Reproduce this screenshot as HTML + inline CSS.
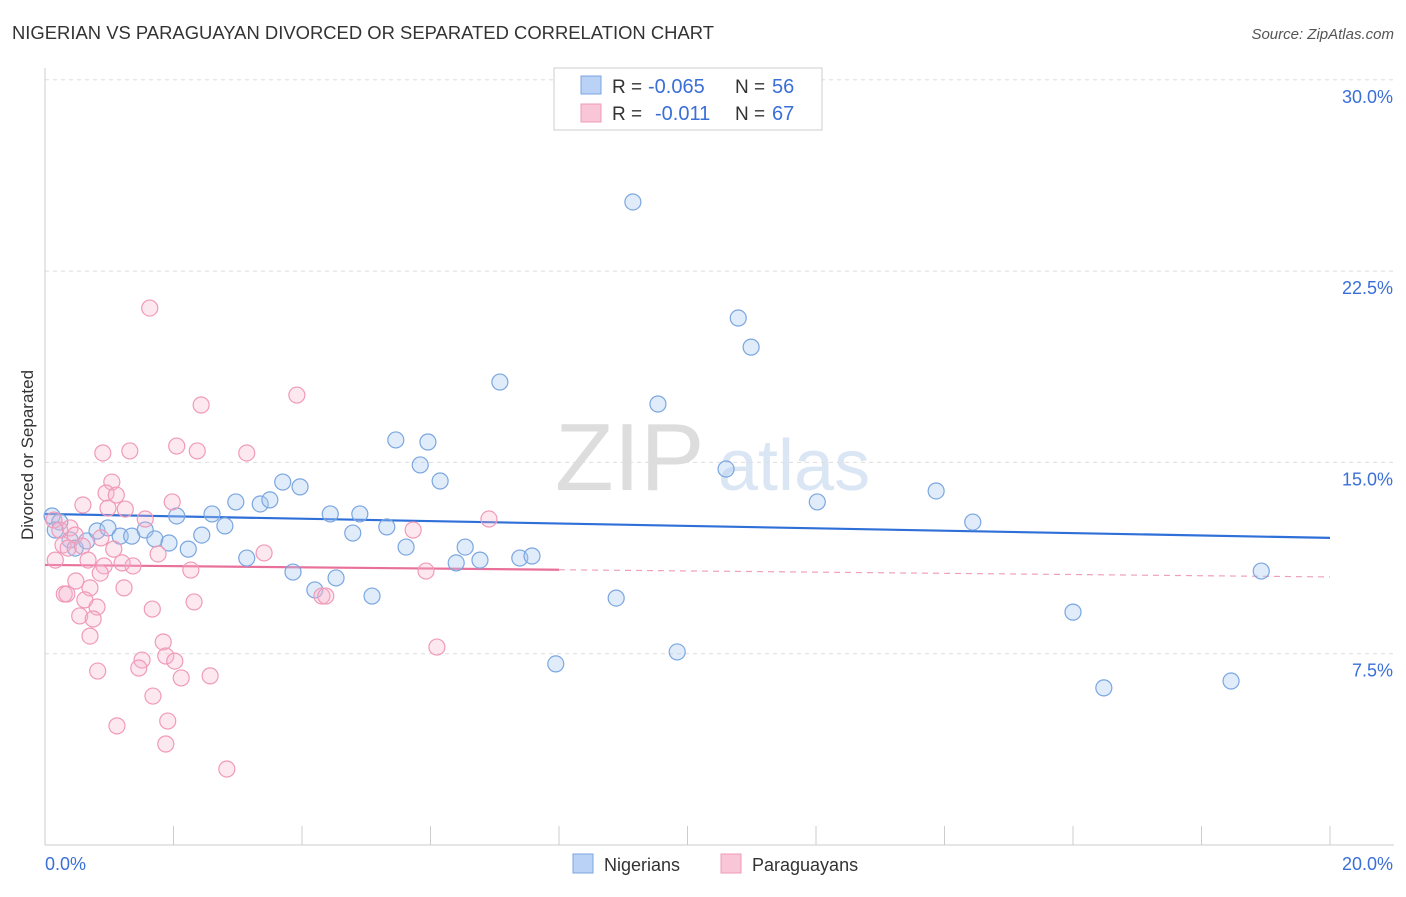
<!DOCTYPE html>
<html><head><meta charset="utf-8"><style>
body{margin:0;background:#fff;font-family:"Liberation Sans",sans-serif}
svg text{font-family:"Liberation Sans",sans-serif}
</style></head><body>
<svg id="chart" width="1406" height="892" xmlns="http://www.w3.org/2000/svg">
<text x="12" y="39" font-size="18" fill="#333" textLength="702" lengthAdjust="spacingAndGlyphs">NIGERIAN VS PARAGUAYAN DIVORCED OR SEPARATED CORRELATION CHART</text>
<text x="1394" y="39" font-size="15" fill="#555" text-anchor="end" font-style="italic">Source: ZipAtlas.com</text>
<text x="555" y="490" font-size="96" fill="#ddd" font-family="Liberation Serif">ZIP</text>
<text x="718" y="490" font-size="72" fill="#dbe6f5">atlas</text>
<text transform="translate(33,455) rotate(-90)" font-size="17" fill="#333" text-anchor="middle">Divorced or Separated</text>
<g id="grid"></g><g id="axes"></g><g id="trends"></g><g id="pts"></g>
<g>
<rect x="554" y="68" width="268" height="62" fill="#fff" stroke="#ccc"/>
<rect x="581" y="76" width="20" height="18" fill="#b9d2f5" stroke="#7aa6e0"/>
<rect x="581" y="104" width="20" height="18" fill="#f9c6d8" stroke="#f09ab8"/>
<text x="612" y="93" font-size="19" fill="#333">R =</text>
<text x="648" y="93" font-size="20" fill="#3a6fd8">-0.065</text>
<text x="735" y="93" font-size="19" fill="#333">N =</text>
<text x="772" y="93" font-size="20" fill="#3a6fd8">56</text>
<text x="612" y="120" font-size="19" fill="#333">R =</text>
<text x="655" y="120" font-size="20" fill="#3a6fd8">-0.011</text>
<text x="735" y="120" font-size="19" fill="#333">N =</text>
<text x="772" y="120" font-size="20" fill="#3a6fd8">67</text>
</g>
<g>
<rect x="573" y="854" width="20" height="19" fill="#b9d2f5" stroke="#7aa6e0"/>
<text x="604" y="871" font-size="18" fill="#333">Nigerians</text>
<rect x="721" y="854" width="20" height="19" fill="#f9c6d8" stroke="#f09ab8"/>
<text x="752" y="871" font-size="18" fill="#333">Paraguayans</text>
</g>
</svg>
<script>
const yTicks=[7.5,15,22.5,30];
const yTickLabels=["7.5%","15.0%","22.5%","30.0%"];
const xTicks=[0,2,4,6,8,10,12,14,16,18,20];
const blueX=[9.15,10.79,10.99,7.08,9.54,5.46,5.96,5.84,6.15,10.60,3.70,3.97,2.97,3.35,3.50,12.02,13.87,14.44,2.05,2.60,2.80,4.44,4.90,5.32,4.79,5.62,6.54,7.39,7.58,6.40,6.77,3.14,3.86,4.53,4.20,5.09,8.89,16.00,7.95,9.84,16.48,18.46,18.93,0.11,0.23,0.16,0.39,0.47,0.65,0.81,0.98,1.17,1.35,1.56,1.71,1.93,2.23,2.44];
const blueY=[25.21,20.66,19.52,18.15,17.29,15.88,15.80,14.90,14.27,14.74,14.23,14.04,13.45,13.37,13.53,13.45,13.88,12.66,12.90,12.98,12.51,12.98,12.98,12.47,12.23,11.68,11.68,11.25,11.33,11.06,11.17,11.25,10.70,10.47,10.00,9.76,9.68,9.13,7.10,7.57,6.16,6.43,10.74,12.90,12.66,12.35,11.96,11.64,11.92,12.31,12.43,12.11,12.11,12.35,12.00,11.84,11.60,12.15];
const pinkX=[1.63,3.92,2.43,2.05,2.37,0.90,1.32,3.14,1.04,0.95,1.11,0.59,0.98,1.25,1.98,1.56,6.91,5.73,0.14,0.23,0.39,0.47,0.28,0.36,0.16,0.58,1.07,1.76,3.41,0.67,0.92,1.37,2.27,5.93,0.86,0.48,0.70,1.23,0.30,0.34,0.62,2.32,1.67,0.81,0.54,0.75,0.70,1.84,1.88,1.51,2.02,1.46,0.82,2.12,2.57,6.10,1.68,4.31,4.37,1.91,1.12,1.88,2.83,1.20,0.87];
const pinkY=[21.05,17.64,17.25,15.64,15.45,15.37,15.45,15.37,14.23,13.80,13.72,13.33,13.21,13.17,13.45,12.78,12.78,12.35,12.74,12.35,12.43,12.15,11.76,11.64,11.17,11.72,11.60,11.41,11.45,11.17,10.94,10.94,10.78,10.74,10.66,10.35,10.08,10.08,9.84,9.84,9.61,9.53,9.25,9.33,8.98,8.86,8.19,7.96,7.41,7.25,7.21,6.94,6.82,6.55,6.63,7.76,5.84,9.76,9.76,4.86,4.67,3.96,2.98,11.06,12.04];
const blueTrend=[12.98,12.04];
const pinkTrend=[10.98,10.51];
const pinkSolidEnd=8.0;
const NS="http://www.w3.org/2000/svg";
const X=v=>45+v/20*1285, Y=v=>845-v/7.5*191.3;
function mk(p,t,a){const e=document.createElementNS(NS,t);for(const k in a)e.setAttribute(k,a[k]);document.getElementById(p).appendChild(e);return e;}
yTicks.forEach((t,i)=>{
 const l=mk('grid','line',{x1:45,x2:1394,y1:Y(t),y2:Y(t),stroke:'#ddd','stroke-dasharray':'4,4'});
 
 
 const tx=mk('grid','text',{x:1393,y:Y(t)+23,'font-size':18,fill:'#3a6fd8','text-anchor':'end'});
 tx.textContent=yTickLabels[i];
 
 
});
const ax=mk('axes','line',{x1:45,x2:1394,y1:845,y2:845,stroke:'#ccc'});


const ay=mk('axes','line',{x1:45,x2:45,y1:68,y2:845,stroke:'#ccc'});


xTicks.forEach(t=>{const l=mk('axes','line',{x1:X(t),x2:X(t),y1:826,y2:845,stroke:'#ccc'});
 
 });
const xl0=mk('axes','text',{x:45,y:870,'font-size':18,fill:'#3a6fd8'});xl0.textContent='0.0%';


const xl1=mk('axes','text',{x:1393,y:870,'font-size':18,fill:'#3a6fd8','text-anchor':'end'});xl1.textContent='20.0%';


blueX.forEach((v,i)=>{const c=mk('pts','circle',{cx:X(v),cy:Y(blueY[i]),r:8,fill:'rgba(170,200,240,0.35)',stroke:'#7aa6e0','stroke-width':1.2});
 
 });
pinkX.forEach((v,i)=>{const c=mk('pts','circle',{cx:X(v),cy:Y(pinkY[i]),r:8,fill:'rgba(248,180,205,0.3)',stroke:'#f09ab8','stroke-width':1.2});
 
 });
const bt=mk('trends','line',{x1:X(0),x2:X(20),y1:Y(blueTrend[0]),y2:Y(blueTrend[1]),stroke:'#2f6fd8','stroke-width':2.2});


const pm=pinkTrend[0]+(pinkTrend[1]-pinkTrend[0])*pinkSolidEnd/20;
const pt=mk('trends','line',{x1:X(0),x2:X(pinkSolidEnd),y1:Y(pinkTrend[0]),y2:Y(pm),stroke:'#e8709a','stroke-width':2.2});


const pd=mk('trends','line',{x1:X(pinkSolidEnd),x2:X(20),y1:Y(pm),y2:Y(pinkTrend[1]),stroke:'#f0a0bc','stroke-width':1.2,'stroke-dasharray':'6,5'});


</script>
</body></html>
